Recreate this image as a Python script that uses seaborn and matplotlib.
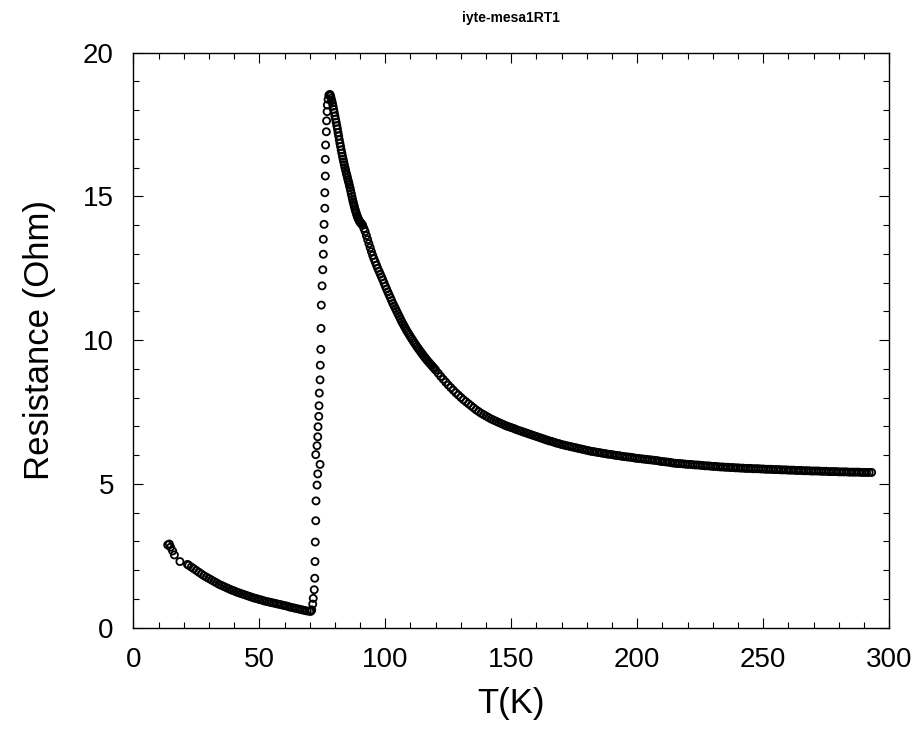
import pandas as pd
import seaborn as sns
import matplotlib.pyplot as plt
from matplotlib.ticker import MultipleLocator

# Messpunkte: Temperatur (K) und Widerstand (Ohm)

# Anfang bei tiefer Temperatur (einzelne Punkte)
t_start = [13.65, 14.3, 14.8, 15.6, 16.3, 18.5]
r_start = [2.88, 2.91, 2.80, 2.67, 2.53, 2.30]

# dichter Ast unterhalb der Sprungtemperatur
t_tief = [21.5, 22, 23, 24, 25, 26, 27, 28, 29, 30, 31, 32, 33, 34, 35, 36, 37, 38, 39, 40,
          41, 42, 43, 44, 45, 46, 47, 48, 49, 50, 51, 52, 53, 54, 55, 56, 57, 58, 59, 60,
          61, 62, 63, 64, 65, 66, 67, 68, 69, 70, 70.5]
r_tief = [2.20, 2.17, 2.11, 2.05, 1.99, 1.93, 1.87, 1.81, 1.76, 1.71, 1.66, 1.61, 1.56, 1.51, 1.47, 1.43, 1.39, 1.35, 1.31, 1.28,
          1.24, 1.21, 1.18, 1.15, 1.12, 1.09, 1.06, 1.03, 1.01, 0.98, 0.96, 0.93, 0.91, 0.89, 0.87, 0.85, 0.83, 0.81, 0.79, 0.77,
          0.75, 0.72, 0.70, 0.68, 0.66, 0.64, 0.62, 0.60, 0.58, 0.57, 0.57]

# Sprung (einzelne Punkte)
t_sprung = [70.8, 71.2, 71.4, 71.8, 72.0, 72.1, 72.2, 72.4, 72.5, 72.9, 73.2, 74.1, 72.4, 72.9, 73.2, 73.3,
            73.6, 73.7, 73.8, 74.1, 74.2, 74.4, 74.5, 74.6, 74.9, 75.2, 75.4, 75.4, 75.7, 76.0, 76.0, 76.2,
            76.2, 76.3, 76.6, 76.7, 76.9, 77.0, 77.3, 77.6]
r_sprung = [0.62, 0.82, 1.02, 1.32, 1.72, 2.30, 2.98, 3.72, 4.41, 4.96, 5.35, 5.68, 6.02, 6.33, 6.64, 6.99,
            7.35, 7.72, 8.16, 8.62, 9.13, 9.68, 10.41, 11.22, 11.89, 12.45, 12.99, 13.51, 14.03, 14.59, 15.13, 15.71,
            16.29, 16.79, 17.25, 17.63, 17.95, 18.18, 18.38, 18.52]

# Ast oberhalb der Sprungtemperatur
t_hoch = [78.0, 78.25, 78.5, 78.75, 79.0, 79.25, 79.5, 79.75, 80.0, 80.25, 80.5, 80.75, 81.0, 81.25, 81.5, 81.75,
          82.0, 82.25, 82.5, 82.75, 83.0, 83.25, 83.5, 83.75, 84.0, 84.25, 84.5, 84.75, 85.0, 85.25, 85.5, 85.75,
          86.0, 86.25, 86.5, 86.75, 87.0, 87.25, 87.5, 87.75, 88.0, 88.25, 88.5, 88.75, 89.0, 89.25, 89.5, 89.75,
          90.0, 90.25, 90.5, 90.75, 91.0, 91.5, 92, 92.5, 93, 93.5, 94, 94.5, 95, 95.5, 96, 96.5, 97, 97.5, 98, 98.5,
          99, 99.5, 100, 100.5, 101, 101.5, 102, 102.5, 103, 103.5, 104, 104.5, 105, 105.5, 106, 106.5, 107, 107.5,
          108, 108.5, 109, 109.5, 110, 110.5, 111, 111.5, 112, 112.5, 113, 113.5, 114, 114.5, 115, 115.5, 116, 116.5,
          117, 117.5, 118, 118.5, 119, 119.5, 120, 121, 122, 123, 124, 125, 126, 127, 128, 129, 130, 131, 132, 133,
          134, 135, 136, 137, 138, 139, 140, 141, 142, 143, 144, 145, 146, 147, 148, 149, 150, 151, 152, 153, 154,
          155, 156, 157, 158, 159, 160, 161, 162, 163, 164, 165, 166, 167, 168, 169, 170, 171, 172, 173, 174, 175,
          176, 177, 178, 179, 180, 181, 182, 183, 184, 185, 186, 187, 188, 189, 190, 191, 192, 193, 194, 195, 196,
          197, 198, 199, 200, 201, 202, 203, 204, 205, 206, 207, 208, 209, 210, 211, 212, 213, 214, 215, 216, 217,
          218, 219, 220, 221, 222, 223, 224, 225, 226, 227, 228, 229, 230, 231, 232, 233, 234, 235, 236, 237, 238,
          239, 240, 241, 242, 243, 244, 245, 246, 247, 248, 249, 250, 251, 252, 253, 254, 255, 256, 257, 258, 259,
          260, 261, 262, 263, 264, 265, 266, 267, 268, 269, 270, 271, 272, 273, 274, 275, 276, 277, 278, 279, 280,
          281, 282, 283, 284, 285, 286, 287, 288, 289, 290, 291, 292, 293]
r_hoch = [18.55, 18.50, 18.42, 18.33, 18.25, 18.14, 18.03, 17.92, 17.80, 17.69, 17.58, 17.46, 17.35, 17.22, 17.10, 16.97,
          16.85, 16.74, 16.62, 16.51, 16.40, 16.30, 16.20, 16.10, 16.00, 15.91, 15.82, 15.74, 15.65, 15.56, 15.48, 15.39,
          15.30, 15.20, 15.10, 15.00, 14.90, 14.81, 14.72, 14.64, 14.55, 14.48, 14.41, 14.34, 14.28, 14.23, 14.18, 14.14,
          14.10, 14.08, 14.05, 14.03, 14.00, 13.89, 13.78, 13.64, 13.50, 13.36, 13.22, 13.08, 12.95, 12.83, 12.72, 12.61, 12.50, 12.40, 12.30, 12.20,
          12.10, 11.99, 11.88, 11.78, 11.68, 11.58, 11.48, 11.38, 11.28, 11.19, 11.10, 11.01, 10.92, 10.83, 10.74, 10.65, 10.57, 10.49,
          10.41, 10.33, 10.26, 10.19, 10.12, 10.05, 9.98, 9.91, 9.85, 9.78, 9.72, 9.66, 9.60, 9.54, 9.48, 9.42, 9.37, 9.31,
          9.26, 9.21, 9.16, 9.11, 9.06, 9.01, 8.96, 8.85, 8.74, 8.64, 8.54, 8.44, 8.35, 8.26, 8.17, 8.09, 8.01, 7.93, 7.86, 7.79,
          7.72, 7.65, 7.58, 7.52, 7.46, 7.41, 7.36, 7.31, 7.26, 7.22, 7.18, 7.14, 7.10, 7.06, 7.02, 6.99, 6.96, 6.93, 6.89, 6.86, 6.83,
          6.80, 6.77, 6.74, 6.71, 6.68, 6.65, 6.62, 6.59, 6.56, 6.53, 6.50, 6.48, 6.45, 6.42, 6.40, 6.37, 6.35, 6.33, 6.31, 6.29, 6.27,
          6.25, 6.23, 6.21, 6.19, 6.17, 6.15, 6.13, 6.12, 6.10, 6.09, 6.07, 6.06, 6.04, 6.03, 6.02, 6.00, 5.99, 5.98, 5.96, 5.95, 5.94,
          5.93, 5.92, 5.90, 5.89, 5.88, 5.87, 5.86, 5.85, 5.84, 5.83, 5.82, 5.81, 5.79, 5.78, 5.77, 5.76, 5.75, 5.73, 5.72, 5.71, 5.71,
          5.70, 5.69, 5.68, 5.68, 5.67, 5.66, 5.66, 5.65, 5.64, 5.63, 5.63, 5.62, 5.61, 5.61, 5.60, 5.59, 5.59, 5.58, 5.58, 5.57, 5.57,
          5.56, 5.56, 5.55, 5.55, 5.54, 5.54, 5.54, 5.53, 5.53, 5.53, 5.52, 5.52, 5.51, 5.51, 5.51, 5.50, 5.50, 5.50, 5.49, 5.49, 5.49,
          5.48, 5.48, 5.48, 5.47, 5.47, 5.47, 5.46, 5.46, 5.46, 5.45, 5.45, 5.45, 5.45, 5.44, 5.44, 5.44, 5.43, 5.43, 5.43, 5.43, 5.42,
          5.42, 5.42, 5.42, 5.41, 5.41, 5.41, 5.41, 5.41, 5.40, 5.40, 5.40, 5.40, 5.40]

df = pd.DataFrame({
    "T": t_start + t_tief + t_sprung + t_hoch,
    "R": r_start + r_tief + r_sprung + r_hoch})

sns.set_style("ticks")
plt.rcParams["font.family"] = ["Liberation Sans", "DejaVu Sans"]
plt.rcParams["text.color"] = "black"
plt.rcParams["axes.labelcolor"] = "black"

fig = plt.figure(figsize=(9.2, 7.35), dpi=100)
ax = fig.add_axes([0.1449, 0.146, 0.8217, 0.7823])

sns.scatterplot(
    data=df, x="T", y="R", ax=ax,
    marker="o", s=26, facecolors="none", edgecolor="black", linewidth=1.3)

ax.set_xlim(0, 300)
ax.set_ylim(0, 20)
ax.xaxis.set_major_locator(MultipleLocator(50))
ax.xaxis.set_minor_locator(MultipleLocator(10))
ax.yaxis.set_major_locator(MultipleLocator(5))
ax.yaxis.set_minor_locator(MultipleLocator(1))
ax.tick_params(which="both", direction="in", top=True, right=True, width=0.8, colors="black")
ax.tick_params(which="major", length=7, labelsize=20)
ax.tick_params(axis="x", which="major", pad=14)
ax.tick_params(axis="y", which="major", pad=14)
ax.tick_params(which="minor", length=4)
for s in ax.spines.values():
    s.set_linewidth(1.0)
    s.set_color("black")

ax.set_xlabel("T(K)", fontsize=25, labelpad=10)
ax.set_ylabel("Resistance (Ohm)", fontsize=25, labelpad=19)
ax.set_title("iyte-mesa1RT1", fontsize=10, fontweight="bold", pad=22)

plt.savefig("out.png", dpi=100)
